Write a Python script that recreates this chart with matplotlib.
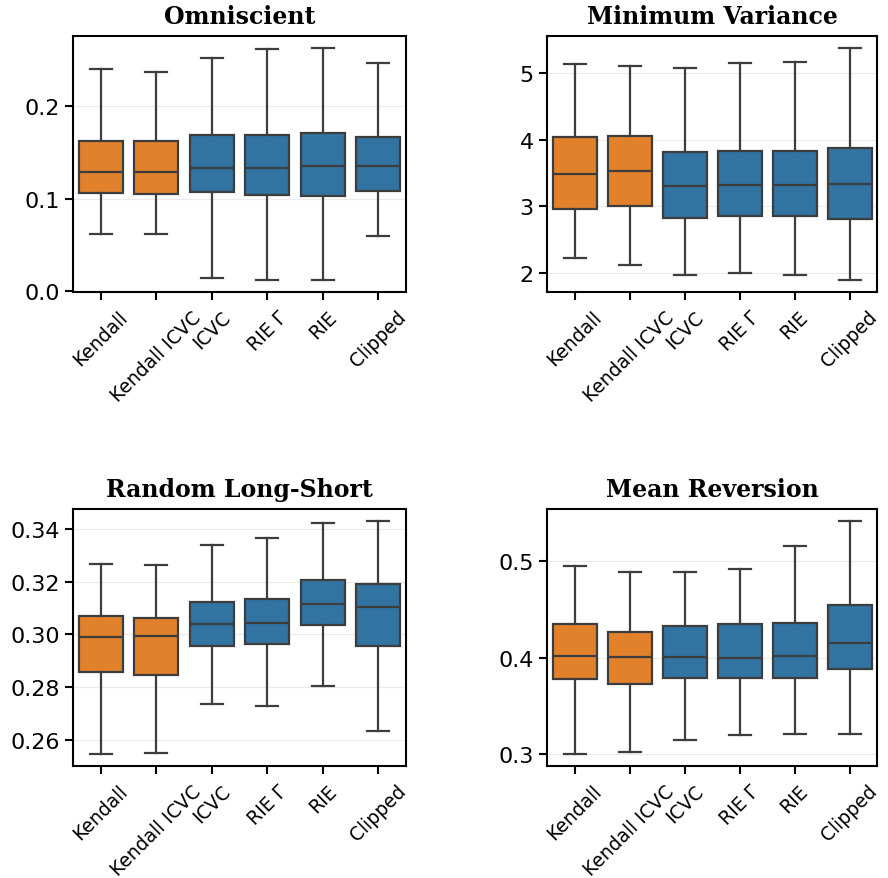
import matplotlib
matplotlib.use("Agg")
import matplotlib.pyplot as plt

methods = ["Kendall", "Kendall ICVC", "ICVC", "RIE Γ", "RIE", "Clipped"]
titles = ["Omniscient", "Minimum Variance", "Random Long-Short", "Mean Reversion"]

# per method: (whisker low, Q1, median, Q3, whisker high)
omniscient = [
    (0.0617, 0.1061, 0.1284, 0.1624, 0.2395),
    (0.0613, 0.1050, 0.1290, 0.1624, 0.2370),
    (0.0147, 0.1069, 0.1327, 0.1685, 0.2513),
    (0.0118, 0.1040, 0.1327, 0.1685, 0.2610),
    (0.0118, 0.1032, 0.1352, 0.1703, 0.2628),
    (0.0595, 0.1080, 0.1348, 0.1660, 0.2459),
]
min_variance = [
    (2.230, 2.965, 3.485, 4.040, 5.140),
    (2.125, 3.000, 3.535, 4.065, 5.110),
    (1.965, 2.830, 3.300, 3.820, 5.085),
    (1.995, 2.850, 3.315, 3.830, 5.155),
    (1.975, 2.860, 3.325, 3.830, 5.175),
    (1.890, 2.810, 3.330, 3.885, 5.385),
]
random_ls = [
    (0.2547, 0.2857, 0.2992, 0.3071, 0.3268),
    (0.2553, 0.2847, 0.2995, 0.3064, 0.3263),
    (0.2739, 0.2957, 0.3039, 0.3124, 0.3338),
    (0.2730, 0.2963, 0.3043, 0.3133, 0.3365),
    (0.2806, 0.3037, 0.3116, 0.3204, 0.3422),
    (0.2637, 0.2955, 0.3102, 0.3192, 0.3430),
]
mean_reversion = [
    (0.3000, 0.3779, 0.4017, 0.4356, 0.4952),
    (0.3020, 0.3734, 0.4007, 0.4270, 0.4889),
    (0.3149, 0.3792, 0.4014, 0.4332, 0.4893),
    (0.3197, 0.3792, 0.4003, 0.4356, 0.4917),
    (0.3208, 0.3792, 0.4024, 0.4363, 0.5159),
    (0.3215, 0.3886, 0.4156, 0.4543, 0.5422),
]
yticks = [
    [0.0, 0.1, 0.2],
    [2, 3, 4, 5],
    [0.26, 0.28, 0.30, 0.32, 0.34],
    [0.3, 0.4, 0.5],
]
ytick_fmt = ["{:.1f}", "{:.0f}", "{:.2f}", "{:.1f}"]
box_colors = ["#e1812c", "#e1812c", "#3274a1", "#3274a1", "#3274a1", "#3274a1"]
line_color = "#3d3d3d"

datasets = [omniscient, min_variance, random_ls, mean_reversion]

fig = plt.figure(figsize=(8.88, 8.79), dpi=100)
positions_ax = [
    [73/888, 1-293/879, 333/888, 256/879],
    [547/888, 1-293/879, 330/888, 256/879],
    [73/888, 1-767/879, 333/888, 257/879],
    [547/888, 1-767/879, 330/888, 257/879],
]
lw = 1.6
for k, (data, title) in enumerate(zip(datasets, titles)):
    ax = fig.add_axes(positions_ax[k])
    stats = []
    for m, (lo, q1, med, q3, hi) in zip(methods, data):
        stats.append(dict(label=m, whislo=lo, q1=q1, med=med, q3=q3, whishi=hi, fliers=[]))
    bp = ax.bxp(stats, positions=range(len(methods)), widths=0.8, patch_artist=True,
                showfliers=False, capwidths=0.4,
                boxprops=dict(edgecolor=line_color, linewidth=lw),
                medianprops=dict(color=line_color, linewidth=lw),
                whiskerprops=dict(color=line_color, linewidth=lw),
                capprops=dict(color=line_color, linewidth=lw))
    for patch, c in zip(bp["boxes"], box_colors):
        patch.set_facecolor(c)
    ax.set_xlim(-0.5, len(methods) - 0.5)
    all_lo = min(d[0] for d in data)
    all_hi = max(d[4] for d in data)
    pad = (all_hi - all_lo) * 0.05
    ax.set_ylim(all_lo - pad, all_hi + pad)
    ax.set_yticks(yticks[k])
    ax.set_yticklabels([ytick_fmt[k].format(v) for v in yticks[k]], fontsize=16)
    ax.set_xticks(range(len(methods)))
    ax.set_xticklabels(methods, rotation=45, ha="center", fontsize=13.5)
    ax.yaxis.grid(True, color="#ebebeb", linewidth=0.8)
    ax.set_axisbelow(True)
    for s in ax.spines.values():
        s.set_linewidth(1.5)
        s.set_color("black")
    ax.tick_params(length=6, width=1.5)
    ax.tick_params(axis="x", pad=5)
    ax.set_title(title, fontsize=17, fontweight="bold", family="DejaVu Serif", pad=9)

fig.savefig("out.png", dpi=100)
